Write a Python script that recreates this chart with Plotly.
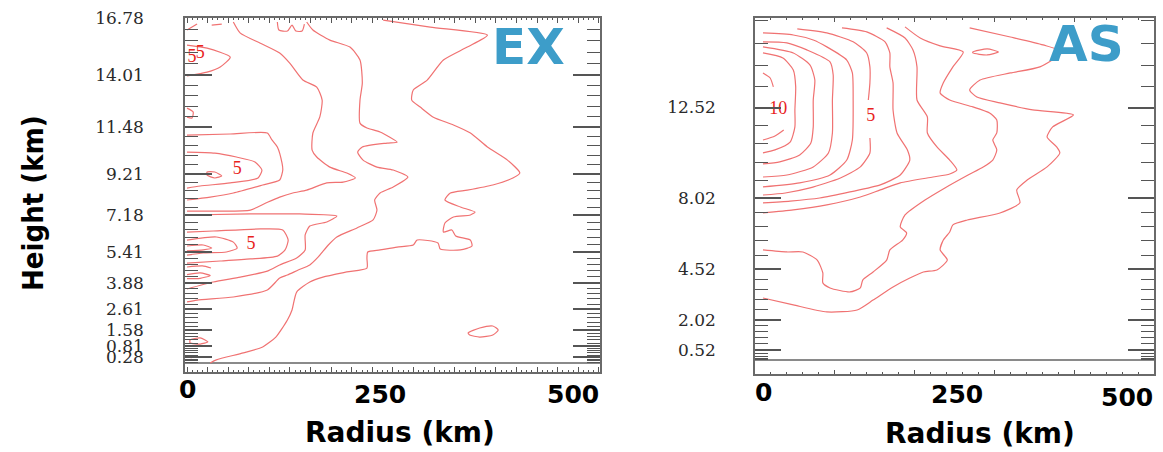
import plotly.graph_objects as go

W, H = 1163, 452

# ---------------- axis tick labels / levels ----------------
ex_height_ticks = [0.28, 0.81, 1.58, 2.61, 3.88, 5.41, 7.18, 9.21, 11.48, 14.01, 16.78]
as_height_ticks = [0.52, 2.02, 4.52, 8.02, 12.52]
ex_extra_levels = [0.04, 0.10, 0.18]
as_extra_levels = [0.04, 0.10, 0.20, 0.34, 13.54, 14.60, 15.70, 16.84]
radius_tick_values = [0, 250, 500]
radius_tick_labels = ["0", "250", "500"]

# ---------------- EX panel contour lines (radius km, height km) ----------------
ex_c1_r = [254, 315, 389, 363, 332, 311, 293, 291, 302, 319, 345, 367, 389, 415, 431, 422, 396, 363, 341, 334,
           354, 373, 367, 345, 334, 332, 343, 348, 367, 369, 354, 328, 325, 298, 293, 272, 250, 234, 233, 233,
           207, 176, 159, 142, 136, 130, 115, 98, 73, 38, 30]
ex_c1_z = [16.68, 16.34, 15.95, 15.37, 14.74, 13.76, 13.28, 12.79, 12.45, 11.96, 11.58, 11.19, 10.51, 9.87, 9.24,
           9.0, 8.66, 8.41, 8.27, 7.93, 7.59, 7.34, 7.2, 7.1, 6.81, 6.37, 6.47, 6.18, 5.98, 5.69, 5.5, 5.54, 5.84,
           5.98, 5.74, 5.64, 5.5, 5.4, 5.1, 4.62, 4.43, 4.18, 3.94, 3.45, 2.58, 2.09, 1.26, 0.78, 0.49, 0.15, 0.0]
ex_c2_r = [155, 163, 185, 211, 224, 227, 224, 224, 233, 250, 272, 259, 227, 221, 228, 246, 267, 286, 267, 250,
           243, 246, 241, 220, 194, 183, 170, 159, 144, 130, 120, 104, 60, 13, 0]
ex_c2_z = [16.59, 16.2, 15.71, 15.37, 14.74, 13.62, 12.79, 11.67, 11.43, 11.24, 10.75, 10.7, 10.51, 10.26, 9.87,
           9.53, 9.39, 9.05, 8.56, 8.27, 7.93, 7.44, 6.96, 6.57, 6.13, 5.74, 5.16, 4.77, 4.52, 4.28, 4.13, 3.55,
           3.21, 3.06, 2.97]
ex_c3_r = [60, 69, 95, 120, 133, 150, 168, 175, 172, 163, 162, 168, 185, 207, 218, 202, 181, 155, 137, 120,
           102, 82, 43, 0]
ex_c3_z = [16.59, 16.05, 15.56, 15.08, 14.59, 13.77, 13.42, 12.79, 11.97, 11.19, 10.36, 10.02, 9.53, 9.24, 9.0,
           8.8, 8.76, 8.41, 8.27, 8.07, 7.78, 7.44, 7.39, 7.39]
ex_c4_r = [0, 82, 146, 194, 181, 159, 153, 153, 142, 120, 104, 69, 34, 0]
ex_c4_z = [7.2, 7.25, 7.25, 7.15, 6.86, 6.66, 6.23, 5.5, 5.11, 4.77, 4.47, 4.18, 3.94, 3.6]
ex_c5_r = [0, 34, 95, 124, 131, 127, 117, 82, 43, 0]
ex_c5_z = [6.37, 6.42, 6.52, 6.47, 5.98, 5.5, 5.2, 5.06, 4.96, 4.86]
ex_c6_r = [0, 38, 60, 65, 51, 21, 0]
ex_c6_z = [5.98, 6.13, 5.88, 5.59, 5.4, 5.35, 5.25]
ex_c7_r = [0, 21, 32, 21, 0]
ex_c7_z = [5.69, 5.74, 5.59, 5.5, 5.45]
ex_c8_r = [0, 56, 104, 110, 117, 123, 124, 120, 98, 60, 30, 0]
ex_c8_z = [11.09, 11.14, 11.19, 10.85, 10.51, 9.73, 9.39, 8.9, 8.66, 8.27, 8.07, 7.93]
ex_c9_r = [0, 36, 64, 88, 97, 92, 56, 17, 0]
ex_c9_z = [10.26, 10.21, 10.02, 9.78, 9.39, 9.0, 8.76, 8.61, 8.51]
ex_c10_r = [26, 36, 45, 36, 26, 26]
ex_c10_z = [9.29, 9.29, 9.1, 9.0, 9.14, 9.29]
ex_c11_r = [0, 26, 56, 43, 26, 0]
ex_c11_z = [15.47, 15.32, 14.88, 14.4, 14.15, 13.97]
ex_c12_r = [0, 8, 6.5, 0]
ex_c12_z = [12.4, 12.21, 11.92, 11.96]
ex_c13_r = [117, 119, 130, 136, 141, 149, 152]
ex_c13_z = [16.59, 16.2, 16.15, 16.44, 16.15, 16.15, 16.49]
ex_c14_r = [0, 13]
ex_c14_z = [16.2, 16.49]
ex_c15_r = [32, 45]
ex_c15_z = [16.44, 16.49]
ex_c16_r = [0, 17, 30, 17, 0]
ex_c16_z = [4.3, 4.38, 4.25, 4.12, 4.1]
ex_c17_r = [4, 17, 27, 17, 4, 4]
ex_c17_z = [1.12, 1.22, 1.02, 0.92, 0.97, 1.12]
ex_c18_r = [364, 379, 396, 403, 396, 379, 366, 364]
ex_c18_z = [1.46, 1.7, 1.8, 1.6, 1.36, 1.26, 1.36, 1.46]
ex_c19_r = [0, 6]
ex_c19_z = [0.34, 0.24]
ex_c20_r = [0, 20, 31]
ex_c20_z = [4.67, 4.72, 4.62]

ex_label_r = [6.5, 17, 65, 83]
ex_label_z = [14.88, 15.08, 9.39, 5.74]
ex_label_text = ["5", "5", "5", "5"]

# ---------------- AS panel contour lines ----------------
as_c1a_r = [10, 19, 23]
as_c1a_z = [14.23, 13.98, 13.54]
as_c1b_r = [36, 25, 10]
as_c1b_z = [11.41, 11.11, 10.91]
as_c2_r = [10, 35, 48, 51, 50, 50, 44, 25, 10]
as_c2_z = [15.22, 14.97, 14.38, 13.54, 12.40, 11.56, 10.81, 10.42, 10.27]
as_c3_r = [10, 48, 69, 75, 73, 73, 70, 56, 31, 10]
as_c3_z = [15.52, 15.22, 14.62, 13.88, 12.89, 11.56, 10.76, 10.17, 9.83, 9.73]
as_c4_r = [10, 40, 65, 94, 98, 97, 97, 92, 73, 40, 10]
as_c4_z = [15.77, 15.72, 15.37, 14.78, 14.13, 12.89, 11.26, 10.27, 9.58, 9.18, 9.08]
as_c5_r = [10, 48, 73, 90, 115, 122, 123, 122, 115, 94, 56, 10]
as_c5_z = [16.21, 16.11, 15.86, 15.52, 14.87, 14.23, 12.89, 10.91, 9.92, 9.18, 8.79, 8.59]
as_c6a_r = [53, 90, 123, 140, 144, 144, 142]
as_c6a_z = [16.41, 16.21, 15.77, 15.22, 14.53, 13.74, 12.89]
as_c6b_r = [144, 144, 132, 107, 69, 38, 10]
as_c6b_z = [11.01, 10.27, 9.58, 9.03, 8.54, 8.29, 8.19]
as_c7_r = [109, 140, 163, 169, 169, 173, 173, 178, 191, 194, 182, 157, 119, 81, 44, 10]
as_c7_z = [16.46, 16.26, 15.77, 15.22, 14.53, 13.74, 12.40, 11.26, 10.42, 9.92, 9.18, 8.69, 8.34, 8.04, 7.89, 7.80]
as_c8_r = [165, 188, 198, 203, 203, 216, 216, 228, 244, 253, 244, 223, 182, 157, 132, 90, 48, 10]
as_c8_z = [16.46, 15.96, 15.37, 14.53, 12.89, 12.05, 11.26, 10.57, 9.92, 9.43, 9.23, 9.08, 8.79, 8.44, 8.09,
           7.70, 7.45, 7.30]
as_c9_r = [188, 207, 232, 261, 248, 236, 232, 244, 273, 294, 303, 303, 298, 303, 298, 286, 267, 238, 213, 188,
           182, 190, 185, 169, 165, 148, 135, 132, 119, 94, 85, 85, 78, 60, 40, 10]
as_c9_z = [16.51, 15.96, 15.57, 15.27, 14.53, 13.74, 13.24, 12.89, 12.55, 12.25, 11.90, 11.26, 10.91, 10.42, 9.92,
           9.58, 9.18, 8.54, 7.94, 7.20, 6.61, 6.31, 5.96, 5.47, 4.97, 4.38, 3.98, 3.59, 3.39, 3.59, 3.84, 4.33,
           4.97, 5.37, 5.37, 5.47]
as_c10_r = [269, 320, 361, 385, 357, 320, 282, 269, 278, 307, 348, 399, 373, 366, 378, 382, 366, 341, 328, 332,
            307, 266, 248, 244, 236, 232, 241, 228, 211, 194, 173, 148, 128, 90, 48, 10]
as_c10_z = [16.46, 16.01, 15.62, 15.27, 14.53, 14.23, 13.88, 13.39, 13.04, 12.75, 12.40, 12.15, 11.56, 11.06,
            10.57, 10.27, 9.58, 8.93, 8.44, 7.80, 7.30, 6.95, 6.71, 6.36, 5.96, 5.47, 4.97, 4.48, 4.38, 4.08,
            3.64, 2.99, 2.50, 2.40, 2.75, 3.09]
as_c11_r = [273, 291, 305, 291, 273, 273]
as_c11_z = [15.27, 15.42, 15.27, 15.12, 15.22, 15.27]

as_label_r = [29, 145]
as_label_z = [12.4, 12.06]
as_label_text = ["10", "5"]

# ---------------- styling ----------------
LINE = "#f07272"
FRAME = "#6a6a6a"
TICK = "#555555"
BLUE = "#3d9dc9"

fig = go.Figure()

ex_lines = [(ex_c1_r, ex_c1_z), (ex_c2_r, ex_c2_z), (ex_c3_r, ex_c3_z), (ex_c4_r, ex_c4_z),
            (ex_c5_r, ex_c5_z), (ex_c6_r, ex_c6_z), (ex_c7_r, ex_c7_z), (ex_c8_r, ex_c8_z),
            (ex_c9_r, ex_c9_z), (ex_c10_r, ex_c10_z), (ex_c11_r, ex_c11_z), (ex_c12_r, ex_c12_z),
            (ex_c13_r, ex_c13_z), (ex_c14_r, ex_c14_z), (ex_c15_r, ex_c15_z), (ex_c16_r, ex_c16_z),
            (ex_c17_r, ex_c17_z), (ex_c18_r, ex_c18_z), (ex_c19_r, ex_c19_z), (ex_c20_r, ex_c20_z)]
as_lines = [(as_c1a_r, as_c1a_z), (as_c1b_r, as_c1b_z), (as_c2_r, as_c2_z), (as_c3_r, as_c3_z),
            (as_c4_r, as_c4_z), (as_c5_r, as_c5_z), (as_c6a_r, as_c6a_z), (as_c6b_r, as_c6b_z),
            (as_c7_r, as_c7_z), (as_c8_r, as_c8_z), (as_c9_r, as_c9_z), (as_c10_r, as_c10_z),
            (as_c11_r, as_c11_z)]

for r, z in ex_lines:
    fig.add_trace(go.Scatter(x=r, y=z, mode="lines", xaxis="x", yaxis="y", showlegend=False,
                             hoverinfo="skip",
                             line=dict(color=LINE, width=1.2, shape="spline", smoothing=0.6)))
for r, z in as_lines:
    fig.add_trace(go.Scatter(x=r, y=z, mode="lines", xaxis="x2", yaxis="y2", showlegend=False,
                             hoverinfo="skip",
                             line=dict(color=LINE, width=1.2, shape="spline", smoothing=0.6)))

label_font = dict(family="Liberation Serif, DejaVu Serif, serif", size=18, color="#e8231c")
fig.add_trace(go.Scatter(x=ex_label_r, y=ex_label_z, text=ex_label_text, mode="text", xaxis="x", yaxis="y",
                         textfont=label_font, showlegend=False, hoverinfo="skip"))
fig.add_trace(go.Scatter(x=as_label_r, y=as_label_z, text=as_label_text, mode="text", xaxis="x2", yaxis="y2",
                         textfont=label_font, showlegend=False, hoverinfo="skip"))

# tick levels (every model level) derived from the labelled levels
def sub_levels(labels, extra):
    lv = []
    for a, b in zip(labels[:-1], labels[1:]):
        for k in range(5):
            lv.append(a + (b - a) * k / 5.0)
    lv.append(labels[-1])
    return sorted(lv + extra)

ex_levels = sub_levels(ex_height_ticks, ex_extra_levels)
as_levels = sub_levels(as_height_ticks, as_extra_levels)

ytickfont = dict(family="DejaVu Serif, serif", size=17, color="#2a2a2a")

def xax(domain, rng, dtick, mdtick, tl, mtl):
    return dict(domain=domain, range=rng, showline=True, linecolor=FRAME, linewidth=1.6, mirror="ticks",
                ticks="inside", tick0=0, dtick=dtick, ticklen=tl, tickwidth=1, tickcolor=TICK,
                showticklabels=False, showgrid=False, zeroline=False, fixedrange=True, automargin=False,
                minor=dict(ticks="inside", tick0=0, dtick=mdtick, ticklen=mtl, tickwidth=1,
                           tickcolor=TICK, showgrid=False))

def yax(domain, rng, ticksv, levels, tl, standoff):
    return dict(domain=domain, range=rng, showline=True, linecolor=FRAME, linewidth=1.6, mirror="ticks",
                tickmode="array", tickvals=ticksv, ticktext=[f"{v:.2f}" for v in ticksv],
                ticks="inside", ticklen=tl, tickwidth=1.5, tickcolor=TICK, tickfont=ytickfont,
                ticklabelstandoff=standoff, showgrid=False, zeroline=True, zerolinecolor="#8a8a8a",
                zerolinewidth=2, fixedrange=True, automargin=False,
                minor=dict(ticks="inside", tickmode="array", tickvals=levels, ticklen=13, tickwidth=1.3,
                           tickcolor=TICK, showgrid=False))

fig.update_layout(
    width=W, height=H, autosize=False,
    margin=dict(l=0, r=0, t=0, b=0, pad=0),
    paper_bgcolor="white", plot_bgcolor="white",
    xaxis=xax([185 / W, 600 / W], [-2.6, 534.8], 26.67, 6.667, 5, 2.5) | dict(anchor="y"),
    yaxis=yax([1 - 372 / H, 1 - 18 / H], [-0.44, 16.785], ex_height_ticks, ex_levels, 27, 36) | dict(anchor="x"),
    xaxis2=xax([755 / W, 1154 / W], [0, 500], 100, 20, 4, 2) | dict(anchor="y2"),
    yaxis2=yax([1 - 374 / H, 1 - 18 / H], [-0.67, 16.95], as_height_ticks, as_levels, 26, 34) | dict(anchor="x2"),
)

ann = []
bold = dict(family="DejaVu Sans, sans-serif", size=25, color="black")
# radius tick labels
ex_lab_y = [1 - 389 / H, 1 - 394 / H, 1 - 394 / H]
for v, t, yy in zip(radius_tick_values, radius_tick_labels, ex_lab_y):
    ann.append(dict(x=v, y=yy, xref="x", yref="paper", text=f"<b>{t}</b>", showarrow=False,
                    font=bold, xanchor="center", yanchor="middle"))
as_lab_y = [1 - 392 / H, 1 - 394 / H, 1 - 397 / H]
as_lab_shift = [8, 2, -27]
for v, t, yy, sh in zip(radius_tick_values, radius_tick_labels, as_lab_y, as_lab_shift):
    ann.append(dict(x=v, y=yy, xref="x2", yref="paper", text=f"<b>{t}</b>", showarrow=False,
                    font=bold, xanchor="center", yanchor="middle", xshift=sh))

title_font = dict(family="DejaVu Sans, sans-serif", size=28, color="black")
ann.append(dict(x=400 / W, y=1 - 432 / H, xref="paper", yref="paper", text="<b>Radius (km)</b>",
                showarrow=False, font=title_font, xanchor="center", yanchor="middle", borderpad=0))
ann.append(dict(x=980 / W, y=1 - 433 / H, xref="paper", yref="paper", text="<b>Radius (km)</b>",
                showarrow=False, font=title_font, xanchor="center", yanchor="middle", borderpad=0))
ann.append(dict(x=33 / W, y=1 - 203 / H, xref="paper", yref="paper", text="<b>Height (km)</b>",
                showarrow=False, textangle=-90, xanchor="center", yanchor="middle",
                font=dict(family="DejaVu Sans Condensed, Liberation Sans Narrow, DejaVu Sans, sans-serif",
                          size=29, color="black")))
panel_font = dict(family="DejaVu Sans, sans-serif", size=50, color=BLUE)
ann.append(dict(x=528 / W, y=1 - 47 / H, xref="paper", yref="paper", text="<b>EX</b>", showarrow=False,
                font=panel_font, xanchor="center", yanchor="middle"))
ann.append(dict(x=1086 / W, y=1 - 44 / H, xref="paper", yref="paper", text="<b>AS</b>", showarrow=False,
                font=panel_font, xanchor="center", yanchor="middle"))
fig.update_layout(annotations=ann)

fig.write_html("out.html", config={"displayModeBar": False},
               post_script="document.body.style.margin='0';document.body.style.overflow='hidden';")
